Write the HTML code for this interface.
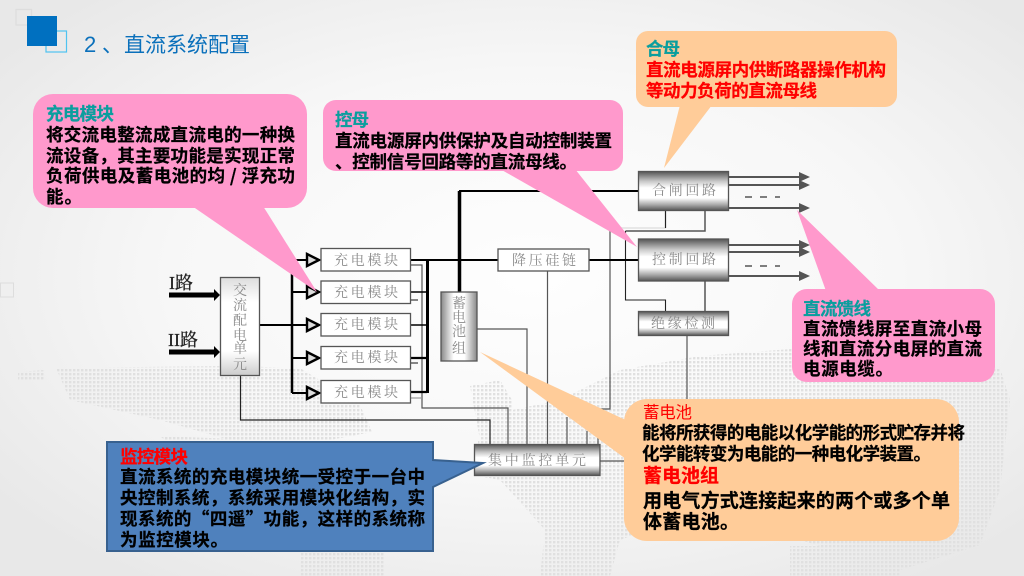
<!DOCTYPE html>
<html><head><meta charset="utf-8"><style>
html,body{margin:0;padding:0;background:#f4f4f4}
svg{display:block}
text{font-family:"Noto Sans CJK SC",sans-serif}
.b{font-weight:700;font-size:17.500px;fill:#000;stroke:#000;stroke-width:.25px}
.h{font-weight:700;font-size:17.500px;stroke-width:.25px}
.l{font-family:"Noto Serif CJK SC",serif;font-size:14px;fill:#8a8a8a;text-anchor:middle}
.r{font-family:"Liberation Serif","Noto Serif CJK SC",serif;font-size:18px;fill:#222;stroke:#222;stroke-width:.3px}
</style></head><body>
<svg width="1024" height="576" viewBox="0 0 1024 576" xmlns="http://www.w3.org/2000/svg">
<defs>
<radialGradient id="bg" cx="52%" cy="48%" r="65%"><stop offset="0" stop-color="#fefefe"/><stop offset=".55" stop-color="#f7f7f7"/><stop offset="1" stop-color="#e8e8e8"/></radialGradient>
<pattern id="dots" width="4" height="4" patternUnits="userSpaceOnUse"><rect x="1" y="1" width="2.400" height="2.400" fill="#e0e0e0"/></pattern>
<linearGradient id="m" x1="0" y1="0" x2="0" y2="1"><stop offset="0" stop-color="#555"/><stop offset=".25" stop-color="#c8c8c8"/><stop offset=".42" stop-color="#fff"/><stop offset=".68" stop-color="#fff"/><stop offset=".85" stop-color="#aaa"/><stop offset="1" stop-color="#555"/></linearGradient>
<linearGradient id="mh" x1="0" y1="0" x2="1" y2="0"><stop offset="0" stop-color="#888"/><stop offset=".35" stop-color="#fff"/><stop offset=".65" stop-color="#fff"/><stop offset="1" stop-color="#888"/></linearGradient>
<linearGradient id="ac" x1="0" y1="0" x2="0" y2="1"><stop offset="0" stop-color="#ddd"/><stop offset=".25" stop-color="#fff"/><stop offset=".75" stop-color="#fff"/><stop offset="1" stop-color="#ccc"/></linearGradient>
</defs>
<rect width="1024" height="576" fill="url(#bg)"/>
<path fill="url(#dots)" d="M18 372L44 370L44 380L18 380ZM56 368L230 366L300 368L360 405L372 432L330 440L230 440L160 420L70 400ZM160 436L260 440L340 446L340 470L200 470ZM300 552L385 552L385 576L300 576ZM470 386L500 380L512 400L512 440L480 440ZM512 410L560 400L620 370L700 356L830 346L1000 368L1010 400L1000 490L980 545L900 570L800 540L700 510L620 540L610 576L540 576L545 530L500 480L478 476L478 440L512 440ZM790 546L900 546L900 576L790 576Z"/>
<!-- logo -->
<rect x="16" y="9.500" width="15.500" height="15.500" fill="none" stroke="#ddd" stroke-width="1.200"/>
<rect x="46" y="31" width="20.500" height="21" fill="none" stroke="#4fc3f0" stroke-width="1.200"/>
<rect x="27" y="16" width="30" height="30" fill="#0070c0"/>
<text x="84" y="52" font-size="22" fill="#0a70bb" style="font-family:'Liberation Sans',sans-serif">2</text>
<text x="102" y="52" font-size="21" fill="#0a70bb">、</text>
<text x="124" y="52" font-size="21" fill="#0a70bb" textLength="126">直流系统配置</text>
<rect x="0.500" y="283" width="13" height="14" fill="none" stroke="#ddd"/>

<!-- gray wires -->
<g fill="none" stroke="#555" stroke-width="1.200">
<path d="M410 265H422V408H508V445"/><path d="M477 329H527V445"/>
<path d="M547.500 271V445"/><path d="M610 228V409H598V445"/><path d="M567 417V445"/><path d="M587 431V445"/>
<path d="M687 335V405"/><path d="M600 461H630"/><path d="M410 398H422" stroke="#999"/>
</g>
<path d="M410 300H418M410 363H418" fill="none" stroke="#111" stroke-width="1"/>
<rect x="610" y="227" width="56" height="2" fill="#e8e8e8"/>
<path d="M625.500 231H705V210M705 281V311" fill="none" stroke="#555" stroke-width="1.500"/>
<path d="M665.500 210V228" fill="none" stroke="#222" stroke-width="1.200"/>
<path d="M625.500 231V300H665.500V311" fill="none" stroke="#222" stroke-width="1.100"/>
<path d="M240.500 375V420H490V445" fill="none" stroke="#222" stroke-width="1.200"/>
<!-- black wires -->
<g fill="none" stroke="#000">
<path d="M292 260V393" stroke-width="2.500"/><path d="M260 325H307M292 260H307M292 292H307M292 358H307M292 393H307" stroke-width="2"/>
<path d="M427.500 260V393" stroke-width="3"/><path d="M410 260H498" stroke-width="2"/><path d="M410 292H427M410 325H427" stroke-width="1.500"/><path d="M410 358H427M410 392H427" stroke-width="2.200"/>
<path d="M589 260H638" stroke-width="2"/><path d="M459.500 191V292" stroke-width="3.500"/><path d="M459 191H638" stroke-width="2"/>
<path d="M169 295H214M169 352H214" stroke-width="5"/>
</g>
<path d="M214 289L220 295L214 301ZM214 346L220 352L214 358Z" fill="#000"/>
<g fill="#ddd" stroke="#000" stroke-width="2.400"><path d="M307 254L319 260L307 266Z"/><path d="M307 286L319 292L307 298Z"/><path d="M307 319L319 325L307 331Z"/><path d="M307 352L319 358L307 364Z"/><path d="M307 387L319 393L307 399Z"/></g>
<!-- right arrows -->
<g stroke="#555" stroke-width="2" fill="none"><path d="M729 177H800M729 185H800M729 208H800M729 245H800M729 252H800M729 276H800"/><path d="M745 197H752M760 197H767M775 197H780M745 266H752M760 266H767M775 266H780" stroke-width="1.500"/></g>
<g fill="#555"><path d="M799 172L810 177L799 182ZM799 180L810 185L799 190ZM799 203L810 208L799 213ZM799 240L810 245L799 250ZM799 247L810 252L799 257ZM799 271L810 276L799 281Z"/></g>

<!-- boxes -->
<g stroke="#555" stroke-width="1.300">
<g fill="#fff"><rect x="321" y="248.500" width="89.500" height="22.500"/><rect x="321" y="281" width="89.500" height="22.500"/><rect x="321" y="313.500" width="89.500" height="22.500"/><rect x="321" y="346.500" width="89.500" height="22.500"/><rect x="321" y="380.500" width="89.500" height="22.500"/><rect x="498" y="249" width="91" height="22"/></g>
<rect x="220.500" y="277.500" width="39" height="98" fill="url(#ac)"/>
<rect x="441" y="292" width="36" height="69" fill="url(#mh)"/>
<rect x="638.500" y="171.500" width="90" height="39" fill="url(#m)"/>
<rect x="638.500" y="239" width="90" height="42" fill="url(#m)"/>
<rect x="638.500" y="311.500" width="90" height="24" fill="url(#m)"/>
<rect x="474.500" y="444.500" width="125.500" height="31" fill="url(#m)"/>
</g>
<g>
<text class="l" x="366" y="265" textLength="64">充电模块</text>
<text class="l" x="366" y="297" textLength="64">充电模块</text>
<text class="l" x="366" y="329" textLength="64">充电模块</text>
<text class="l" x="366" y="362" textLength="64">充电模块</text>
<text class="l" x="366" y="397" textLength="64">充电模块</text>
<text class="l" x="544" y="265" textLength="64">降压硅链</text>
<text class="l" x="684" y="195" textLength="64">合闸回路</text>
<text class="l" x="684" y="264" textLength="64">控制回路</text>
<text class="l" x="683" y="328" textLength="64">绝缘检测</text>
<text class="l" x="537" y="465" textLength="98">集中监控单元</text>
<text class="l" x="240" y="295">交</text><text class="l" x="240" y="310">流</text><text class="l" x="240" y="325">配</text><text class="l" x="240" y="340">电</text><text class="l" x="240" y="353">单</text><text class="l" x="240" y="369">元</text>
<text class="l" x="459" y="308">蓄</text><text class="l" x="459" y="322">电</text><text class="l" x="459" y="336">池</text><text class="l" x="459" y="353">组</text>
</g>
<text class="r" x="169" y="289">I路</text>
<text class="r" x="168" y="346">II路</text>

<!-- callouts -->
<g fill="#ff99cc">
<rect x="33" y="94" width="274" height="114" rx="20"/><path d="M192 206L317 292L263 206Z"/>
<rect x="323" y="100" width="300" height="71" rx="13"/><path d="M500 169L637 247L575 169Z"/>
<rect x="792" y="289" width="203" height="93" rx="15"/><path d="M826 291L797 210L880 291Z"/>
</g>
<g fill="#ffcc99">
<rect x="636" y="31" width="261" height="76" rx="12"/><path d="M680 105L664 168L712 105Z"/>
<rect x="624" y="399" width="335" height="142" rx="23"/><path d="M630 422L480 352L630 462Z"/>
</g>
<path d="M107 442H433V460L483 463L433 487V551H107Z" fill="#4f81bd" stroke="#38618f" stroke-width="2"/>

<!-- callout text -->
<text class="h" x="46" y="120" fill="#0a9e9e" stroke="#0a9e9e" textLength="68">充电模块</text>
<text class="b" x="46" y="141" textLength="249">将交流电整流成直流电的一种换</text>
<text class="b" x="46" y="162" textLength="249">流设备，其主要功能是实现正常</text>
<text class="b" x="46" y="182" textLength="249">负荷供电及蓄电池的均 / 浮充功</text>
<text class="b" x="46" y="203" textLength="36">能。</text>

<text class="h" x="335" y="126" fill="#0a9e9e" stroke="#0a9e9e" textLength="34">控母</text>
<text class="b" x="335" y="147" textLength="277">直流电源屏内供保护及自动控制装置</text>
<text class="b" x="335" y="168" textLength="242">、控制信号回路等的直流母线。</text>

<text class="h" x="646" y="55" fill="#0a9e9e" stroke="#0a9e9e" textLength="34">合母</text>
<text class="b" x="646" y="76" textLength="240" style="fill:#f00;stroke:#f00">直流电源屏内供断路器操作机构</text>
<text class="b" x="646" y="97" textLength="171" style="fill:#f00;stroke:#f00">等动力负荷的直流母线</text>

<text class="h" x="803" y="315" fill="#0a9e9e" stroke="#0a9e9e" textLength="68">直流馈线</text>
<text class="b" x="803" y="335" textLength="179">直流馈线屏至直流小母</text>
<text class="b" x="803" y="355" textLength="179">线和直流分电屏的直流</text>
<text class="b" x="803" y="375" textLength="90">电源电缆。</text>

<text x="643" y="418" font-size="16.500" fill="#f00" textLength="49">蓄电池</text>
<text class="b" x="642" y="439" textLength="323">能将所获得的电能以化学能的形式贮存并将</text>
<text class="b" x="642" y="460" textLength="289">化学能转变为电能的一种电化学装置。</text>
<text class="h" x="643" y="482" style="font-size:19px" fill="#f00" stroke="#f00" textLength="76">蓄电池组</text>
<text class="b" x="643" y="507" style="font-size:19px" textLength="307">用电气方式连接起来的两个或多个单</text>
<text class="b" x="643" y="528" style="font-size:19px" textLength="96">体蓄电池。</text>

<text class="h" x="120" y="463" fill="#f00" stroke="#f00" textLength="68">监控模块</text>
<text class="b" x="120" y="483" textLength="305">直流系统的充电模块统一受控于一台中</text>
<text class="b" x="120" y="504" textLength="305">央控制系统，系统采用模块化结构，实</text>
<text class="b" x="120" y="525" textLength="305">现系统的“四遥”功能，这样的系统称</text>
<text class="b" x="120" y="546" textLength="108">为监控模块。</text>
</svg>
</body></html>
